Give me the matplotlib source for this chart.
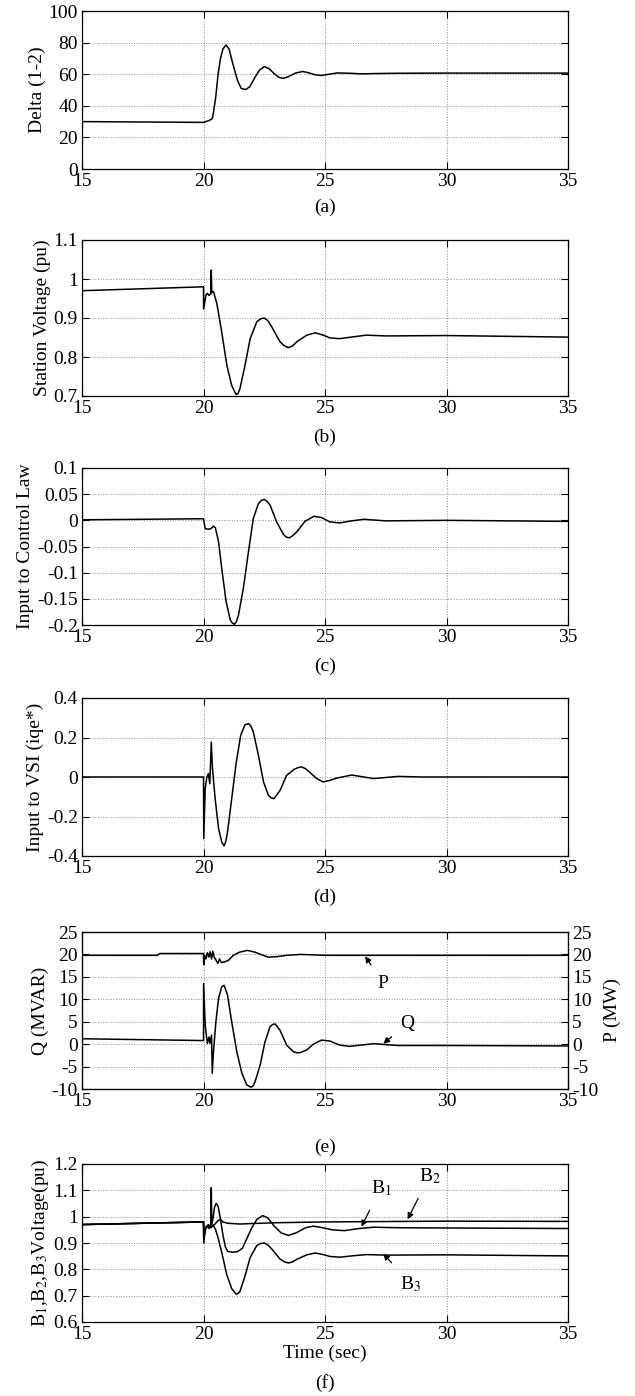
import matplotlib
matplotlib.use('Agg')
import matplotlib.pyplot as plt
import numpy as np

plt.rcParams['font.family'] = ['Liberation Serif', 'DejaVu Serif']
plt.rcParams['mathtext.fontset'] = 'stix'
plt.rcParams['axes.unicode_minus'] = False
plt.rcParams['font.size'] = 14

# ---- data ----
# (a) rotor angle difference
t_delta = [15, 18, 20, 20.2, 20.34, 20.38, 20.5, 20.6, 20.7, 20.8, 20.93, 21.05, 21.2, 21.4,
           21.55, 21.74, 21.9, 22.1, 22.3, 22.5, 22.7, 22.9, 23.1, 23.29, 23.5, 23.8, 24.08,
           24.3, 24.6, 24.86, 25.1, 25.5, 26, 26.5, 27, 28, 30, 35]
delta = [30, 29.7, 29.5, 30.5, 31.6, 33, 45, 60, 70, 76, 78.5, 76, 67, 56,
         51, 50.3, 52, 57.5, 62.5, 64.8, 63.5, 60.5, 58, 57.4, 58.5, 60.8, 61.7,
         61, 59.6, 59.2, 59.8, 60.8, 60.6, 60.2, 60.4, 60.6, 60.7, 60.7]

# (b) station voltage
t_vst = [15, 20, 20.005, 20.1, 20.16, 20.22, 20.3, 20.32, 20.34, 20.41, 20.55, 20.75, 20.96,
         21.16, 21.34, 21.42, 21.5, 21.71, 21.92, 22.19, 22.35, 22.5, 22.65, 22.81, 23.15, 23.32,
         23.49, 23.66, 23.84, 24.25, 24.6, 24.93, 25.2, 25.6, 26.2, 26.7, 27.5, 30, 35]
v_station = [0.97, 0.98, 0.923, 0.959, 0.963, 0.958, 0.962, 1.023, 0.965, 0.968, 0.937, 0.864, 0.779,
             0.727, 0.704, 0.706, 0.719, 0.779, 0.847, 0.890, 0.898, 0.900, 0.893, 0.877, 0.839, 0.829,
             0.824, 0.828, 0.839, 0.856, 0.862, 0.856, 0.849, 0.847, 0.852, 0.856, 0.854, 0.855, 0.851]

# (c) input to control law
t_ctl = [15, 20, 20.07, 20.2, 20.3, 20.41, 20.49, 20.62, 20.75, 20.93, 21.1, 21.18, 21.27, 21.35,
         21.44, 21.64, 21.85, 22.05, 22.26, 22.38, 22.5, 22.62, 22.74, 23.01, 23.29, 23.41, 23.53,
         23.65, 23.84, 24.18, 24.55, 24.86, 25.2, 25.6, 26.1, 26.6, 27.5, 30, 35]
u_ctl = [0.001, 0.003, -0.0157, -0.017, -0.016, -0.011, -0.0144, -0.041, -0.092, -0.155, -0.19, -0.196,
         -0.1987, -0.194, -0.181, -0.130, -0.060, 0.0034, 0.032, 0.038, 0.040, 0.036, 0.029, -0.003,
         -0.027, -0.032, -0.0335, -0.030, -0.022, -0.0017, 0.0078, 0.0053, -0.003, -0.005, -0.001,
         0.002, -0.001, 0.0, -0.002]

# (d) input to VSI
t_vsi = [15, 20, 20.01, 20.07, 20.14, 20.2, 20.26, 20.32, 20.37, 20.48, 20.62, 20.75, 20.85, 20.92,
         20.99, 21.16, 21.34, 21.53, 21.71, 21.86, 21.95, 22.05, 22.26, 22.47, 22.67, 22.78, 22.9,
         23.15, 23.42, 23.73, 23.9, 24.04, 24.2, 24.36, 24.66, 24.93, 25.2, 25.5, 26.1, 27, 28, 29, 35]
i_vsi = [0, 0, -0.312, -0.059, 0.0, 0.017, -0.034, 0.177, 0.042, -0.110, -0.262, -0.329, -0.349, -0.325,
         -0.278, -0.110, 0.067, 0.211, 0.265, 0.270, 0.258, 0.228, 0.110, -0.025, -0.092, -0.105, -0.110,
         -0.068, 0.008, 0.039, 0.048, 0.051, 0.042, 0.025, -0.008, -0.025, -0.017, -0.005, 0.01, -0.008,
         0.003, 0, 0]

# (e) reactive and active power
t_q = [15, 20, 20.005, 20.07, 20.16, 20.23, 20.27, 20.33, 20.36, 20.41, 20.51, 20.62, 20.75,
       20.85, 20.99, 21.16, 21.37, 21.58, 21.78, 21.95, 22.04, 22.12, 22.33, 22.53, 22.74, 22.85,
       22.95, 23.15, 23.42, 23.7, 23.83, 23.97, 24.25, 24.52, 24.86, 25.2, 25.6, 26, 26.5, 27, 28,
       30, 35]
q_mvar = [1.2, 0.8, 13.5, 4.2, 0.15, 1.6, 0.2, 2.0, -6.5, -1.7, 5.0, 10.2, 12.8,
          13.1, 10.9, 5.0, -1.7, -6.5, -9.1, -9.6, -9.3, -8.4, -4.7, 0.5, 3.9, 4.4,
          4.5, 3.1, -0.2, -1.7, -1.9, -1.9, -1.3, 0.0, 0.9, 0.7, -0.2, -0.5, -0.2, 0.1, -0.3,
          -0.3, -0.4]
t_p = [15, 18.1, 18.2, 20, 20.01, 20.05, 20.1, 20.16, 20.22, 20.27, 20.33, 20.38, 20.44,
       20.52, 20.59, 20.66, 20.73, 20.85, 21.03, 21.23, 21.48, 21.81, 22.12, 22.4, 22.67,
       23.01, 23.42, 24, 25, 30, 35]
p_mw = [19.8, 19.8, 20.2, 20.2, 17.7, 19.8, 19.0, 20.4, 19.4, 20.6, 19.0, 20.7, 19.4,
        18.7, 18.0, 19.0, 18.2, 18.3, 18.7, 19.8, 20.5, 20.9, 20.5, 19.9, 19.4,
        19.5, 19.8, 20.0, 19.8, 19.8, 19.8]

# (f) bus voltages
t_b1 = [15, 20, 20.01, 20.08, 20.15, 20.22, 20.3, 20.32, 20.34, 20.4, 20.45, 20.52, 20.6, 20.7,
        20.8, 20.9, 21.0, 21.2, 21.4, 21.6, 21.8, 22.0, 22.2, 22.44, 22.65, 22.9, 23.2, 23.49,
        23.8, 24.2, 24.52, 24.9, 25.3, 25.8, 26.4, 27, 28, 30, 35]
b1 = [0.97, 0.98, 0.90, 0.955, 0.965, 0.955, 0.965, 1.11, 0.97, 1.0, 1.035, 1.05, 1.04, 0.99,
      0.93, 0.885, 0.868, 0.865, 0.867, 0.88, 0.92, 0.96, 0.99, 1.004, 0.995, 0.965, 0.938, 0.929,
      0.938, 0.958, 0.964, 0.958, 0.95, 0.947, 0.955, 0.96, 0.958, 0.957, 0.955]
t_b2 = [15, 20, 20.02, 20.1, 20.2, 20.3, 20.4, 20.5, 20.6, 20.7, 20.8, 21.0, 21.5, 22, 23, 25, 30, 35]
b2 = [0.97, 0.98, 0.93, 0.96, 0.97, 0.96, 0.965, 0.975, 0.985, 0.99, 0.98, 0.975, 0.972, 0.974,
      0.977, 0.98, 0.983, 0.982]
t_b3 = [15, 20, 20.01, 20.1, 20.2, 20.3, 20.4, 20.5, 20.6, 20.75, 20.96, 21.16, 21.34, 21.42, 21.5,
        21.71, 21.92, 22.19, 22.35, 22.5, 22.65, 22.81, 23.15, 23.32, 23.49, 23.66, 23.84, 24.25,
        24.6, 24.93, 25.2, 25.6, 26.2, 26.7, 27.5, 30, 35]
b3 = [0.97, 0.98, 0.92, 0.96, 0.965, 0.958, 0.968, 0.95, 0.92, 0.864, 0.779, 0.727, 0.706, 0.708,
      0.716, 0.775, 0.845, 0.89, 0.898, 0.9, 0.893, 0.877, 0.839, 0.829, 0.824, 0.828, 0.838, 0.855,
      0.862, 0.856, 0.849, 0.846, 0.852, 0.856, 0.854, 0.855, 0.851]

# ---- layout (pixel boxes measured on the reference) ----
W, H = 635, 1396
fig = plt.figure(figsize=(W / 100, H / 100), dpi=100)
x0, x1 = 82, 568
boxes = [(11, 169), (240, 396), (468, 625), (698, 856), (932, 1089), (1164, 1322)]
axes = []
for top, bot in boxes:
    ax = fig.add_axes([x0 / W, 1 - bot / H, (x1 - x0) / W, (bot - top) / H])
    axes.append(ax)


def style(ax, ylim, yticks, ylabels):
    ax.set_xlim(15, 35)
    ax.set_xticks([15, 20, 25, 30, 35])
    ax.set_ylim(*ylim)
    ax.set_yticks(yticks)
    ax.set_yticklabels(ylabels)
    ax.grid(True, linestyle=':', color='0.55', lw=0.7)
    ax.tick_params(direction='in', top=True, right=True, length=5, width=0.8, labelsize=14, pad=3)
    for s in ax.spines.values():
        s.set_linewidth(0.9)


lw = 1.1
ax = axes[0]
ax.plot(t_delta, delta, color='k', lw=lw)
style(ax, (0, 100), [0, 20, 40, 60, 80, 100], ['0', '20', '40', '60', '80', '100'])
ax.set_ylabel('Delta (1-2)', labelpad=2)

ax = axes[1]
ax.plot(t_vst, v_station, color='k', lw=lw)
style(ax, (0.7, 1.1), [0.7, 0.8, 0.9, 1.0, 1.1], ['0.7', '0.8', '0.9', '1', '1.1'])
ax.set_ylabel('Station Voltage (pu)', labelpad=2)

ax = axes[2]
ax.plot(t_ctl, u_ctl, color='k', lw=lw)
style(ax, (-0.2, 0.1), [-0.2, -0.15, -0.1, -0.05, 0, 0.05, 0.1],
      ['-0.2', '-0.15', '-0.1', '-0.05', '0', '0.05', '0.1'])
ax.set_ylabel('Input to Control Law', labelpad=2)

ax = axes[3]
ax.plot(t_vsi, i_vsi, color='k', lw=lw)
style(ax, (-0.4, 0.4), [-0.4, -0.2, 0, 0.2, 0.4], ['-0.4', '-0.2', '0', '0.2', '0.4'])
ax.set_ylabel('Input to VSI (iqe*)', labelpad=2)

ax = axes[4]
ax.plot(t_q, q_mvar, color='k', lw=lw)
ticks_e = [-10, -5, 0, 5, 10, 15, 20, 25]
style(ax, (-10, 25), ticks_e, [str(v) for v in ticks_e])
ax.tick_params(right=False)
ax.set_ylabel('Q (MVAR)', labelpad=2)
ax2 = ax.twinx()
ax2.plot(t_p, p_mw, color='k', lw=lw)
ax2.set_ylim(-10, 25)
ax2.set_yticks(ticks_e)
ax2.set_yticklabels([str(v) for v in ticks_e])
ax2.tick_params(direction='in', length=5, width=0.8, labelsize=14, pad=3)
ax2.set_ylabel('P (MW)', labelpad=4)
arrow = dict(arrowstyle='-|>', color='k', lw=0.9, mutation_scale=9)
ax.annotate('P', xy=(26.65, 19.6), xytext=(27.4, 13.6), ha='center', va='center',
            arrowprops=dict(arrow, shrinkA=6, shrinkB=0))
ax.annotate('Q', xy=(27.4, 0.1), xytext=(28.4, 4.7), ha='center', va='center',
            arrowprops=dict(arrow, shrinkA=6, shrinkB=0))

ax = axes[5]
ax.plot(t_b2, b2, color='k', lw=lw)
ax.plot(t_b1, b1, color='k', lw=lw)
ax.plot(t_b3, b3, color='k', lw=lw)
style(ax, (0.6, 1.2), [0.6, 0.7, 0.8, 0.9, 1.0, 1.1, 1.2],
      ['0.6', '0.7', '0.8', '0.9', '1', '1.1', '1.2'])
ax.set_ylabel(r'B$_1$,B$_2$,B$_3$Voltage(pu)', labelpad=2)
ax.set_xlabel('Time (sec)', labelpad=1)
ax.annotate(r'B$_1$', xy=(26.5, 0.962), xytext=(27.3, 1.11), ha='center', va='center',
            arrowprops=dict(arrow, shrinkA=8, shrinkB=0))
ax.annotate(r'B$_2$', xy=(28.4, 0.99), xytext=(29.3, 1.155), ha='center', va='center',
            arrowprops=dict(arrow, shrinkA=8, shrinkB=0))
ax.annotate(r'B$_3$', xy=(27.4, 0.86), xytext=(28.5, 0.745), ha='center', va='center',
            arrowprops=dict(arrow, shrinkA=8, shrinkB=0))

for lab, y in zip(['(a)', '(b)', '(c)', '(d)', '(e)', '(f)'], [207, 437, 666, 897, 1147, 1383]):
    fig.text(325 / W, 1 - y / H, lab, ha='center', va='center', fontsize=14)

fig.savefig('out.png', dpi=100)
